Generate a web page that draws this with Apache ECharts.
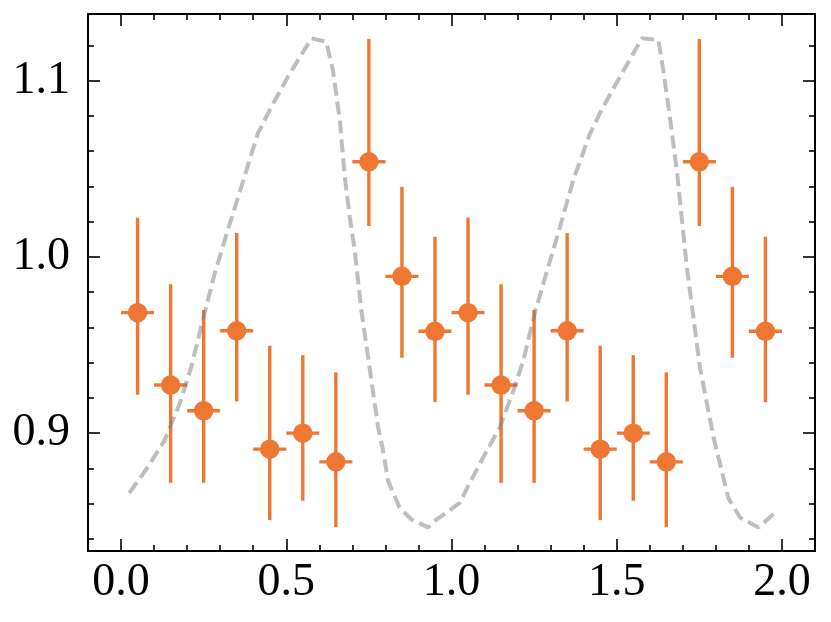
<!DOCTYPE html>
<html>
<head>
<meta charset="utf-8">
<script src="https://cdn.jsdelivr.net/npm/echarts@6/dist/echarts.min.js"></script>
<style>
html,body{margin:0;padding:0;background:#fff;}
#chart{width:831px;height:622px;}
</style>
</head>
<body>
<div id="chart"></div>
<script>
// ---- data ----
const phase = [0.05,0.15,0.25,0.35,0.45,0.55,0.65,0.75,0.85,0.95,1.05,1.15,1.25,1.35,1.45,1.55,1.65,1.75,1.85,1.95];
const flux = [0.9684,0.9273,0.9127,0.9581,0.8909,0.9000,0.8837,1.0540,0.9890,0.9578,
              0.9684,0.9273,0.9127,0.9581,0.8909,0.9000,0.8837,1.0540,0.9890,0.9578];
const fluxLow = [0.9218,0.8718,0.8718,0.9180,0.8506,0.8616,0.8468,1.0176,0.9428,0.9176,
                 0.9218,0.8718,0.8718,0.9180,0.8506,0.8616,0.8468,1.0176,0.9428,0.9176];
const fluxHigh = [1.0223,0.9845,0.9699,1.0136,0.9496,0.9443,0.9345,1.1237,1.0398,1.0114,
                  1.0223,0.9845,0.9699,1.0136,0.9496,0.9443,0.9345,1.1237,1.0398,1.0114];
const phaseErr = [0.05,0.05,0.05,0.05,0.05,0.05,0.05,0.05,0.05,0.05,
                  0.05,0.05,0.05,0.05,0.05,0.05,0.05,0.05,0.05,0.05];
const modelPhase = [0.025,0.08,0.131,0.177,0.212,0.247,0.283,0.323,0.364,0.414,0.455,0.505,0.576,0.621,0.641,0.662,0.677,0.692,0.707,0.727,0.752,0.778,0.793,0.808,0.843,0.879,0.929,0.955,0.985,
                    1.025,1.056,1.101,1.146,1.187,1.217,1.252,1.278,1.328,1.368,1.419,1.459,1.51,1.576,1.626,1.641,1.662,1.682,1.712,1.752,1.793,1.838,1.874,1.929,1.98];
const modelFlux = [0.866,0.8805,0.8956,0.9165,0.9373,0.9638,0.9903,1.0152,1.0398,1.0701,1.0852,1.1023,1.1241,1.1222,1.1061,1.0777,1.0455,1.0227,1.004,0.970,0.9373,0.9032,0.890,0.8729,0.8577,0.851,0.8465,0.851,0.855,
                   0.8604,0.872,0.888,0.9032,0.924,0.941,0.968,0.985,1.0168,1.0434,1.070,1.0852,1.1023,1.1241,1.1232,1.106,1.0777,1.049,0.9945,0.937,0.8975,0.863,0.852,0.8465,0.855];
const xMajor = [0, 0.5, 1.0, 1.5, 2.0];
const xMinor = [0.1,0.2,0.3,0.4,0.6,0.7,0.8,0.9,1.1,1.2,1.3,1.4,1.6,1.7,1.8,1.9];
const yMajor = [0.9, 1.0, 1.1];
const yMinor = [0.84,0.86,0.88,0.92,0.94,0.96,0.98,1.02,1.04,1.06,1.08,1.12];

// ---- styles ----
const ORANGE = '#EE7733';
const GREY = 'rgba(125,125,125,0.5)';
const X_MIN = -0.1, X_MAX = 2.1, Y_MIN = 0.8331, Y_MAX = 1.1379;
const FONT = '"Liberation Serif", "Times New Roman", serif';
const FONT_SIZE = 46;

const errData = phase.map((p, i) => [p, flux[i], fluxLow[i], fluxHigh[i], phaseErr[i]]);
const pointData = phase.map((p, i) => [p, flux[i]]);
const modelData = modelPhase.map((p, i) => [p, modelFlux[i]]);

function axisX(position, major, showLabel) {
  return {
    type: 'value', position: position, min: X_MIN, max: X_MAX,
    axisLine: {show: true, onZero: false, lineStyle: {color: '#000', width: 2}},
    axisTick: {show: true, inside: true, length: major ? 12 : 6,
               customValues: major ? xMajor : xMinor,
               lineStyle: {color: '#000', width: 1.6}},
    axisLabel: {show: showLabel, customValues: xMajor, margin: 9,
                fontFamily: FONT, fontSize: FONT_SIZE, color: '#000',
                formatter: v => Number(v).toFixed(1)},
    splitLine: {show: false}
  };
}
function axisY(position, major, showLabel) {
  return {
    type: 'value', position: position, min: Y_MIN, max: Y_MAX,
    axisLine: {show: true, onZero: false, lineStyle: {color: '#000', width: 2}},
    axisTick: {show: true, inside: true, length: major ? 12 : 6,
               customValues: major ? yMajor : yMinor,
               lineStyle: {color: '#000', width: 1.6}},
    axisLabel: {show: showLabel, customValues: yMajor, margin: 18,
                fontFamily: FONT, fontSize: FONT_SIZE, color: '#000',
                formatter: v => Number(v).toFixed(1)},
    splitLine: {show: false}
  };
}

const chart = echarts.init(document.getElementById('chart'), null, {renderer: 'canvas'});
chart.setOption({
  animation: false,
  backgroundColor: '#fff',
  grid: {left: 88, right: 16, top: 14, bottom: 71, containLabel: false},
  xAxis: [axisX('bottom', true, true), axisX('bottom', false, false),
          axisX('top', true, false), axisX('top', false, false)],
  yAxis: [axisY('left', true, true), axisY('left', false, false),
          axisY('right', true, false), axisY('right', false, false)],
  series: [
    {
      type: 'custom', data: errData, xAxisIndex: 0, yAxisIndex: 0, z: 2,
      encode: {x: 0, y: 1},
      renderItem: function (params, api) {
        const x = api.value(0), y = api.value(1), lo = api.value(2), hi = api.value(3), xe = api.value(4);
        const a = api.coord([x, lo]), b = api.coord([x, hi]);
        const l = api.coord([x - xe, y]), r = api.coord([x + xe, y]);
        return {type: 'group', children: [
          {type: 'line', shape: {x1: a[0], y1: a[1], x2: b[0], y2: b[1]},
           style: {stroke: ORANGE, lineWidth: 3.4}},
          {type: 'line', shape: {x1: l[0], y1: l[1], x2: r[0], y2: r[1]},
           style: {stroke: ORANGE, lineWidth: 3.4}}
        ]};
      }
    },
    {
      type: 'scatter', data: pointData, xAxisIndex: 0, yAxisIndex: 0, z: 3,
      symbol: 'circle', symbolSize: 19.5,
      itemStyle: {color: ORANGE, opacity: 1}
    },
    {
      type: 'line', data: modelData, xAxisIndex: 0, yAxisIndex: 0,
      showSymbol: false, symbol: 'none', z: 4, silent: true,
      lineStyle: {color: GREY, width: 4, type: [13, 6], cap: 'butt'}
    }
  ]
});
</script>
</body>
</html>
